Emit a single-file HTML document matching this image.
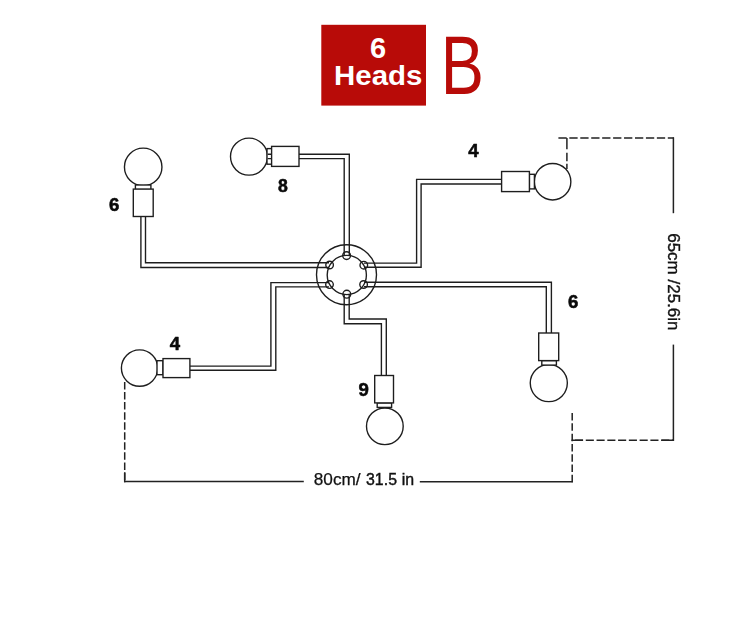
<!DOCTYPE html>
<html>
<head>
<meta charset="utf-8">
<title>6 Heads B</title>
<style>
html,body{margin:0;padding:0;background:#fff;}
body{width:750px;height:620px;overflow:hidden;position:relative;font-family:"Liberation Sans",sans-serif;}
svg{position:absolute;left:0;top:0;display:block;}
.ln{fill:none;stroke:#1e1e1e;stroke-width:1.38;}
.sh{fill:#fff;stroke:#1e1e1e;stroke-width:1.38;}
.dash{fill:none;stroke:#222;stroke-width:1.5;stroke-dasharray:7.8 2.6;}
.dim{fill:none;stroke:#222;stroke-width:1.5;}
.num{font-family:"Liberation Sans",sans-serif;font-weight:bold;font-size:18.6px;fill:#0a0a0a;stroke:#0a0a0a;stroke-width:0.55;stroke-linejoin:round;}
.lbl{font-family:"Liberation Sans",sans-serif;fill:#111;}
</style>
</head>
<body>
<svg style="opacity:0.999" width="750" height="620" viewBox="0 0 750 620">
<!-- header -->
<rect x="321.3" y="24.8" width="104.7" height="80.8" fill="#b80b08"/>
<text x="378" y="58.2" text-anchor="middle" font-family="Liberation Sans, sans-serif" font-weight="bold" font-size="29" fill="#fff">6</text>
<text transform="translate(378.2,85.2) scale(1.04,1)" text-anchor="middle" font-family="Liberation Sans, sans-serif" font-weight="bold" font-size="28.3" fill="#fff">Heads</text>
<text x="0" y="0" transform="translate(440.7,94.1) scale(0.78,1)" font-family="Liberation Sans, sans-serif" font-size="83" fill="#b80b08">B</text>

<!-- tubes -->
<g class="ln">
<!-- top-left (6): down then right to hub -->
<path d="M140.9 216.5 V267.5 H329"/>
<path d="M145.5 216.5 V262.7 H329"/>
<!-- top (8): right then down to hub -->
<path d="M299 154.3 H349.3 V255"/>
<path d="M299 158.6 H344.2 V255"/>
<!-- top-right (4) -->
<path d="M364 263.1 H416.6 V179.4 H501.6"/>
<path d="M364 267.3 H421.1 V184 H501.6"/>
<!-- right (6) -->
<path d="M364 282.3 H551.4 V333.3"/>
<path d="M364 286.7 H546.3 V333.3"/>
<!-- bottom-left (4) -->
<path d="M329 282.6 H270.9 V366.1 H189.9"/>
<path d="M329 286.9 H275.8 V370.2 H189.9"/>
<!-- bottom (9) -->
<path d="M344.2 294 V323.7 H381.4 V375.5"/>
<path d="M349.2 294 V319 H386.3 V375.5"/>
</g>

<!-- hub -->
<g class="ln">
<circle cx="346.5" cy="274.8" r="30"/>
<circle cx="346.8" cy="275" r="19.6"/>
<circle cx="346.6" cy="255.6" r="3.9"/>
<circle cx="329.6" cy="265" r="3.8"/>
<circle cx="363.8" cy="265.2" r="3.8"/>
<circle cx="329.5" cy="284.6" r="3.8"/>
<circle cx="363.6" cy="284.5" r="3.8"/>
<circle cx="346.8" cy="294.2" r="3.9"/>
</g>

<!-- bulbs -->
<g class="sh">
<!-- top-left 6 -->
<circle cx="143.2" cy="166.9" r="18.75"/>
<rect x="135.4" y="185" width="15.5" height="4.5"/>
<rect x="133.3" y="189.1" width="19.9" height="27.4"/>
<!-- top 8 -->
<circle cx="249" cy="156.6" r="18.5"/>
<rect x="267" y="148.6" width="5" height="15.6"/>
<path d="M267.6 154.3 H272 M267.6 158.6 H272"/>
<rect x="271.6" y="146.4" width="27.4" height="20"/>
<!-- top-right 4 -->
<circle cx="552.6" cy="181.7" r="18.25"/>
<rect x="529.4" y="174.3" width="5" height="14.6"/>
<rect x="501.6" y="171.5" width="27.8" height="20.1"/>
<!-- right 6 -->
<circle cx="548.8" cy="383.05" r="18.55"/>
<rect x="541.8" y="360.6" width="14.6" height="4.5"/>
<rect x="538.7" y="333" width="20" height="27.6"/>
<!-- bottom-left 4 -->
<circle cx="139.6" cy="368.1" r="18.2"/>
<rect x="157" y="360.7" width="6" height="14"/>
<rect x="163" y="358.6" width="26.9" height="19"/>
<!-- bottom 9 -->
<circle cx="384.85" cy="426.3" r="18.35"/>
<rect x="377.2" y="402.9" width="14.4" height="4.5"/>
<rect x="374.7" y="375.5" width="18.8" height="27.4"/>
</g>

<!-- dimension lines -->
<path class="dim" stroke-dasharray="8.3 2.64" d="M558.4 138.1 H674"/>
<path class="dim" d="M566.9 138 V149.2 M566.9 152.7 V161.3 M566.9 163.8 V169"/>
<path class="dim" d="M673.4 137.4 V213.2"/>
<path class="dim" d="M673.4 344.6 V441"/>
<path class="dim" stroke-dasharray="8.1 2.67" d="M575 440.3 H674"/>
<path class="dim" d="M571.5 440.3 H583 M661.4 440.3 H674"/>
<path class="dim" stroke-dasharray="7.5 2.77" d="M572.2 413.1 V482.4"/>
<path class="dim" d="M572.9 481.7 H419.8"/>
<path class="dim" d="M303.8 481.6 H124"/>
<path class="dim" stroke-dasharray="7.5 2.55" d="M124.7 382 V482.3"/>
<path class="dim" d="M124.7 472.4 V482.3"/>

<!-- numbers -->
<text class="num" x="108.9" y="210.9">6</text>
<text class="num" x="278.1" y="191.5" style="font-size:17.6px">8</text>
<text class="num" x="468.3" y="156.8">4</text>
<text class="num" x="568" y="307.8">6</text>
<text class="num" x="169.7" y="349.7">4</text>
<text class="num" x="358.6" y="395.6">9</text>

<!-- labels -->
<text class="lbl" x="313.8" y="484.9" font-size="17.2" stroke="#111" stroke-width="0.25">80cm/</text>
<text class="lbl" x="365.9" y="484.9" font-size="15.9" letter-spacing="0.1" stroke="#111" stroke-width="0.4">31.5 in</text>
<text class="lbl" transform="translate(667.9,233.2) rotate(90)" font-size="17" stroke="#111" stroke-width="0.4">65cm /25.6in</text>
</svg>
</body>
</html>
